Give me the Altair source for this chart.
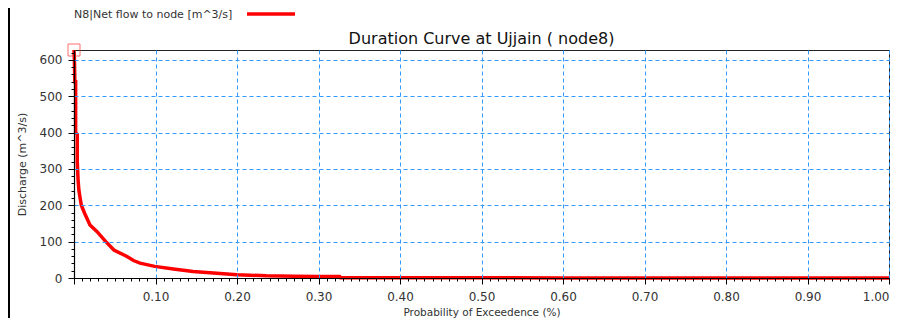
import altair as alt
import pandas as pd

# Duration curve values (probability of exceedence, discharge)
prob = [0.000, 0.0005, 0.001, 0.002, 0.002, 0.004, 0.004, 0.005, 0.006, 0.0075,
        0.009, 0.013, 0.0196, 0.028, 0.039, 0.049, 0.065, 0.073, 0.081, 0.099,
        0.122, 0.146, 0.171, 0.200, 0.236, 0.270, 0.298, 0.326, 0.327, 0.400,
        0.600, 0.800, 1.000]
discharge = [627, 600, 540, 540, 400, 395, 320, 270, 241, 220,
             200, 178, 146, 128, 100, 77, 59, 48, 41, 32,
             25, 18, 14, 9, 6, 5, 4.4, 4, 1, 0.6,
             0.3, 0.2, 0.0]

x_ticks = [round(i * 0.01, 2) for i in range(101)]
y_ticks = list(range(0, 621, 20))

title_text = "Duration Curve at Ujjain ( node8)"
legend_text = "N8|Net flow to node [m^3/s]"
x_title = "Probability of Exceedence (%)"
y_title = "Discharge (m^3/s)"

df = pd.DataFrame({"p": prob, "q": discharge, "i": list(range(len(prob)))})
FONT = "DejaVu Sans"

x_enc = alt.X(
    "p:Q",
    scale=alt.Scale(domain=[0, 1], nice=False, zero=True),
    axis=alt.Axis(
        values=x_ticks,
        tickCount=len(x_ticks),
        title=x_title,
        labelExpr="(round(datum.value*100)%10==0 && datum.value>0) ? format(datum.value,'.2f') : ''",
        labelOverlap=False,
        tickSize={"condition": {"test": "round(datum.value*100)%10==0", "value": 6}, "value": 3},
        gridOpacity={"condition": {"test": "round(datum.value*100)%10==0", "value": 1}, "value": 0},
        labelPadding=7,
        titlePadding=5,
        zindex=1,
    ),
)
y_enc = alt.Y(
    "q:Q",
    scale=alt.Scale(domain=[0, 627], nice=False, zero=True),
    axis=alt.Axis(
        values=y_ticks,
        tickCount=len(y_ticks),
        title=y_title,
        labelExpr="(datum.value%100==0) ? format(datum.value,'d') : ''",
        labelOverlap=False,
        tickSize={"condition": {"test": "datum.value%100==0", "value": 6}, "value": 3},
        gridOpacity={"condition": {"test": "datum.value%100==0 && datum.value>0", "value": 1}, "value": 0},
        labelPadding=6,
        titlePadding=12,
        zindex=1,
    ),
)

line = alt.Chart(df).mark_line(color="#ff0000", strokeWidth=3.5, clip=False).encode(
    x=x_enc, y=y_enc, order="i:Q"
)

marker = alt.Chart(df.iloc[[0]]).mark_point(
    shape="square", size=144, filled=False, color="#ff3333", strokeWidth=1
).encode(x="p:Q", y="q:Q")

dummy = alt.Data(values=[{}])
title_mark = alt.Chart(dummy).mark_text(
    align="center", baseline="alphabetic", font=FONT, fontSize=16, color="#111111"
).encode(x=alt.value(407.5), y=alt.value(-6.5), text=alt.value(title_text))
leg_text = alt.Chart(dummy).mark_text(
    align="left", baseline="middle", font=FONT, fontSize=11, color="#333333"
).encode(x=alt.value(0), y=alt.value(-35), text=alt.value(legend_text))
leg_line = alt.Chart(dummy).mark_rule(color="#ff0000", strokeWidth=3.5).encode(
    x=alt.value(173), x2=alt.value(221), y=alt.value(-36)
)
frame_left = alt.Chart(dummy).mark_rect(color="#000000").encode(
    x=alt.value(-66), x2=alt.value(-64), y=alt.value(-42), y2=alt.value(268)
)

chart = alt.layer(frame_left, line, marker, title_mark, leg_text, leg_line).properties(
    width=815,
    height=228,
    autosize=alt.AutoSizeParams(type="none"),
    padding={"left": 66, "top": 42, "right": 13, "bottom": 40},
).configure_view(
    stroke="#222222", strokeWidth=1
).configure_axis(
    labelFont=FONT, labelFontSize=12, labelColor="#333333",
    titleFont=FONT, titleFontSize=11, titleFontWeight="normal", titleColor="#333333",
    domainColor="#000000", domainWidth=1.2, tickColor="#000000", tickWidth=1,
    gridColor="#3399ff", gridDash=[4, 3], gridWidth=1,
).configure_axisX(titleFontSize=10.5)

chart.save("out.html", embed_options={"renderer": "svg", "actions": False})
